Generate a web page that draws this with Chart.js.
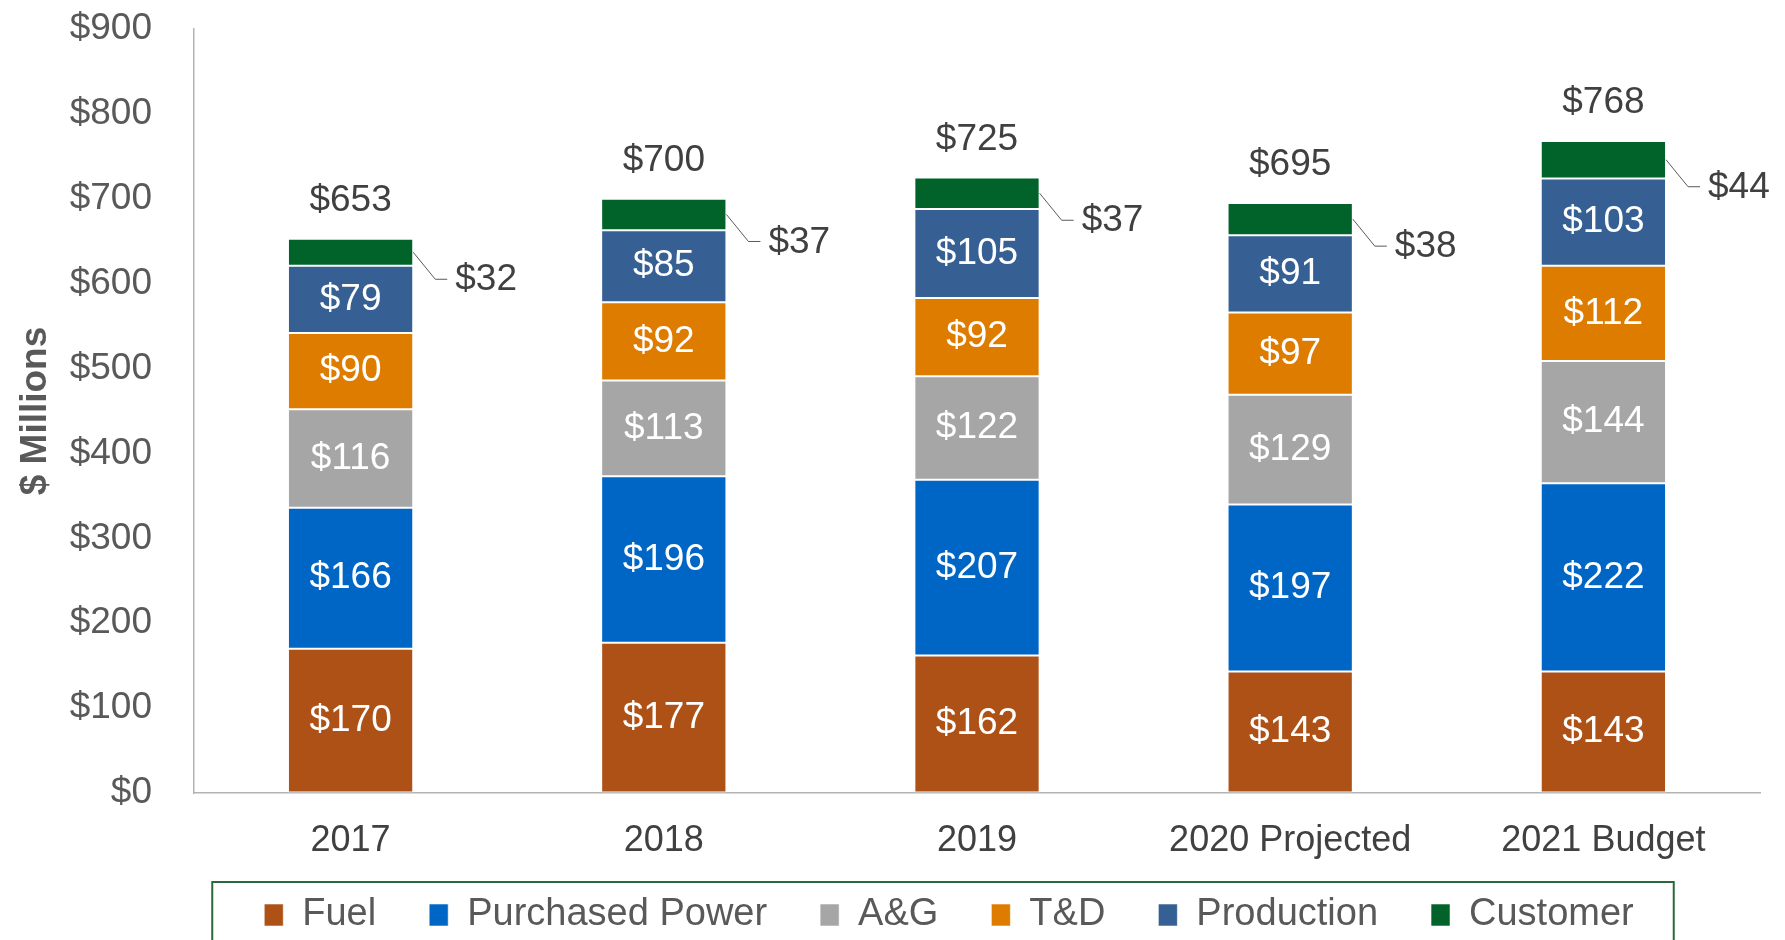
<!DOCTYPE html>
<html>
<head>
<meta charset="utf-8">
<script src="https://cdn.jsdelivr.net/npm/chart.js@4.4.0/dist/chart.umd.min.js"></script>
<style>
  html, body { margin: 0; padding: 0; background: #fff; }
  #wrap { width: 1785px; height: 940px; }
</style>
</head>
<body>
<div id="wrap"><canvas id="chart" width="1785" height="940"></canvas></div>
<script>
// --- Dados ($ milhões) ---
const years = ['2017', '2018', '2019', '2020 Projected', '2021 Budget'];
const fuel = [170, 177, 162, 143, 143];
const purchasedPower = [166, 196, 207, 197, 222];
const adminGeneral = [116, 113, 122, 129, 144];
const transDist = [90, 92, 92, 97, 112];
const production = [79, 85, 105, 91, 103];
const customer = [32, 37, 37, 38, 44];
const totals = [653, 700, 725, 695, 768];
const yTicks = [0, 100, 200, 300, 400, 500, 600, 700, 800, 900];

const FONT = '"Liberation Sans", Arial, sans-serif';
const TEXT_DARK = '#404040';
const TEXT_GRAY = '#595959';

// rótulos dentro das barras, chamadas do Customer e totais
const segmentLabels = {
    id: 'segmentLabels',
    afterDatasetsDraw(chart) {
        const ctx = chart.ctx;
        const last = chart.data.datasets.length - 1;
        ctx.save();
        ctx.font = '37px ' + FONT;
        ctx.textBaseline = 'middle';
        chart.data.datasets.forEach((ds, i) => {
            const meta = chart.getDatasetMeta(i);
            meta.data.forEach((bar, j) => {
                const v = ds.data[j];
                const midY = (bar.y + bar.base) / 2;
                if (i < last) {
                    ctx.fillStyle = '#ffffff';
                    ctx.textAlign = 'center';
                    ctx.fillText('$' + v, bar.x, midY);
                } else {
                    // linha de chamada para o segmento pequeno
                    const right = bar.x + bar.width / 2;
                    const ex = right + 22, ey = midY + 27;
                    ctx.strokeStyle = TEXT_GRAY;
                    ctx.lineWidth = 1;
                    ctx.beginPath();
                    ctx.moveTo(right, midY);
                    ctx.lineTo(ex, ey);
                    ctx.lineTo(ex + 12, ey);
                    ctx.stroke();
                    ctx.fillStyle = TEXT_DARK;
                    ctx.textAlign = 'left';
                    ctx.fillText('$' + v, ex + 20, ey + 1);
                }
            });
        });
        const topMeta = chart.getDatasetMeta(last);
        ctx.fillStyle = TEXT_DARK;
        ctx.textAlign = 'center';
        topMeta.data.forEach((bar, j) => {
            ctx.fillText('$' + totals[j], bar.x, bar.y - 38);
        });
        ctx.restore();
    }
};

// ajusta a posição da legenda e desenha a moldura verde
const legendFrame = {
    id: 'legendFrame',
    afterLayout(chart) {
        const lg = chart.legend;
        lg.left = 138;
        lg.top -= 22;
        lg.bottom -= 22;
    },
    afterDraw(chart) {
        const lg = chart.legend;
        if (!lg || !lg.legendHitBoxes.length) return;
        const boxes = lg.legendHitBoxes;
        const first = boxes[0], lastBox = boxes[boxes.length - 1];
        const left = first.left - 52;
        const right = lastBox.left + lastBox.width + 40;
        const top = first.top + first.height / 2 - 33;
        const ctx = chart.ctx;
        ctx.save();
        ctx.strokeStyle = '#2A6A3A';
        ctx.lineWidth = 2;
        ctx.strokeRect(left, top, right - left, 100);
        ctx.restore();
    }
};

function series(label, data, color) {
    return {
        label: label,
        data: data,
        backgroundColor: color,
        borderColor: 'rgba(255,255,255,0.55)',
        borderWidth: 1,
        borderSkipped: false
    };
}

const chart = new Chart(document.getElementById('chart').getContext('2d'), {
    type: 'bar',
    data: {
        labels: years,
        datasets: [
            series('Fuel', fuel, '#AE5117'),
            series('Purchased Power', purchasedPower, '#0066C5'),
            series('A&G', adminGeneral, '#A6A6A6'),
            series('T&D', transDist, '#DE7C00'),
            series('Production', production, '#366094'),
            series('Customer', customer, '#01632A')
        ]
    },
    options: {
        responsive: false,
        animation: false,
        devicePixelRatio: 1,
        categoryPercentage: 1,
        barPercentage: 0.4,
        layout: { padding: { left: 0, top: 29, right: 25, bottom: -26 } },
        scales: {
            x: {
                stacked: true,
                grid: { drawOnChartArea: false, drawTicks: false },
                border: { display: true, color: '#B3B3B3', width: 1.5 },
                ticks: { color: TEXT_DARK, font: { family: FONT, size: 36 }, padding: 26, maxRotation: 0 },
                afterFit: s => { s.height = 72; }
            },
            y: {
                stacked: true,
                min: 0,
                max: 900,
                grid: { drawOnChartArea: false, drawTicks: false },
                border: { display: true, color: '#B3B3B3', width: 1.5 },
                afterBuildTicks: s => { s.ticks = yTicks.map(v => ({ value: v })); },
                ticks: {
                    color: TEXT_GRAY,
                    font: { family: FONT, size: 37 },
                    padding: 42,
                    callback: v => '$' + v
                },
                title: {
                    display: true,
                    text: '$ Millions',
                    color: TEXT_GRAY,
                    font: { family: FONT, size: 37, weight: 'bold' },
                    padding: { top: 14, bottom: 0 }
                },
                afterFit: s => {
                    s.width = 194;
                    s.paddingTop = 0;
                    s.paddingBottom = 0;
                }
            }
        },
        plugins: {
            legend: {
                position: 'bottom',
                labels: {
                    color: TEXT_GRAY,
                    font: { family: FONT, size: 38 },
                    boxWidth: 19,
                    boxHeight: 22,
                    padding: 53
                }
            },
            tooltip: { enabled: false }
        }
    },
    plugins: [segmentLabels, legendFrame]
});
</script>
</body>
</html>
